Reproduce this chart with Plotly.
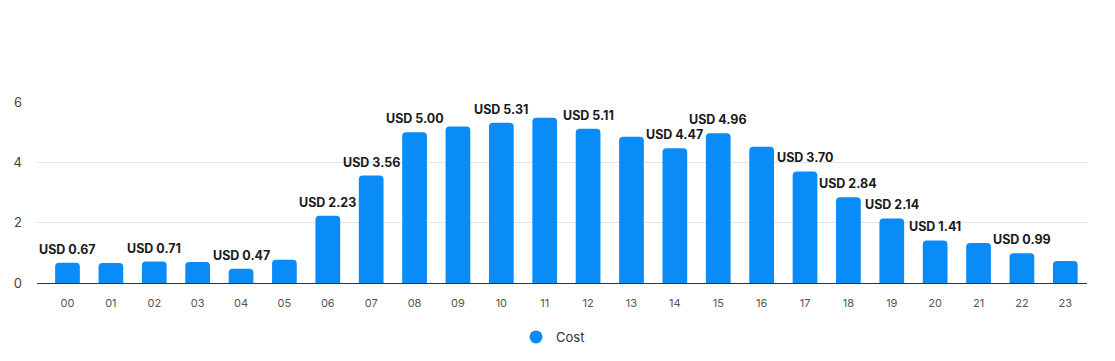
import plotly.graph_objects as go

hours = [f"{h:02d}" for h in range(24)]
cost = [0.67, 0.66, 0.71, 0.70, 0.47, 0.77, 2.23, 3.56, 5.00, 5.19, 5.31, 5.48,
        5.11, 4.85, 4.47, 4.96, 4.52, 3.70, 2.84, 2.14, 1.41, 1.33, 0.99, 0.73]
labeled_hours = ["00", "02", "04", "06", "07", "08", "10", "12", "14", "15",
                 "17", "18", "19", "20", "22"]
y_ticks = [0, 2, 4, 6]

BLUE = "#0a8cf8"
FONT = "Inter, Roboto, sans-serif"

fig = go.Figure()
fig.add_trace(go.Bar(
    x=hours, y=cost, marker=dict(color=BLUE, cornerradius=4, line=dict(width=0)),
    showlegend=False, hoverinfo="x+y"))
fig.add_trace(go.Scatter(
    x=[None], y=[None], mode="markers", name="Cost",
    marker=dict(color=BLUE, size=13, symbol="circle")))

for h, v in zip(hours, cost):
    if h in labeled_hours:
        fig.add_annotation(x=h, y=v, text=f"<b>USD {v:.2f}</b>", showarrow=False,
                           yanchor="bottom", yshift=4,
                           font=dict(family=FONT, size=12.5, color="#1a1a1a"))

fig.update_layout(
    width=1115, height=361,
    margin=dict(l=37, r=28, t=102, b=78, autoexpand=False),
    paper_bgcolor="white", plot_bgcolor="white",
    bargap=0.43,
    font=dict(family=FONT, size=12, color="#444"),
    legend=dict(orientation="h", x=0.5 - 9 / 1050, xanchor="center", y=-0.298,
                yanchor="middle",
                font=dict(family=FONT, size=13, color="#333"), itemwidth=30),
    xaxis=dict(type="category", showgrid=False, showline=True, linecolor="#333",
               linewidth=1, ticks="", ticklabelstandoff=10, automargin=False,
               tickfont=dict(family=FONT, size=11, color="#555")),
    yaxis=dict(range=[0, 6], tickvals=y_ticks, showgrid=True, gridcolor="#e6e6e6",
               zeroline=False, ticks="", ticklabelstandoff=14, automargin=False,
               tickfont=dict(family=FONT, size=13, color="#444")),
)

fig.write_html("out.html")
